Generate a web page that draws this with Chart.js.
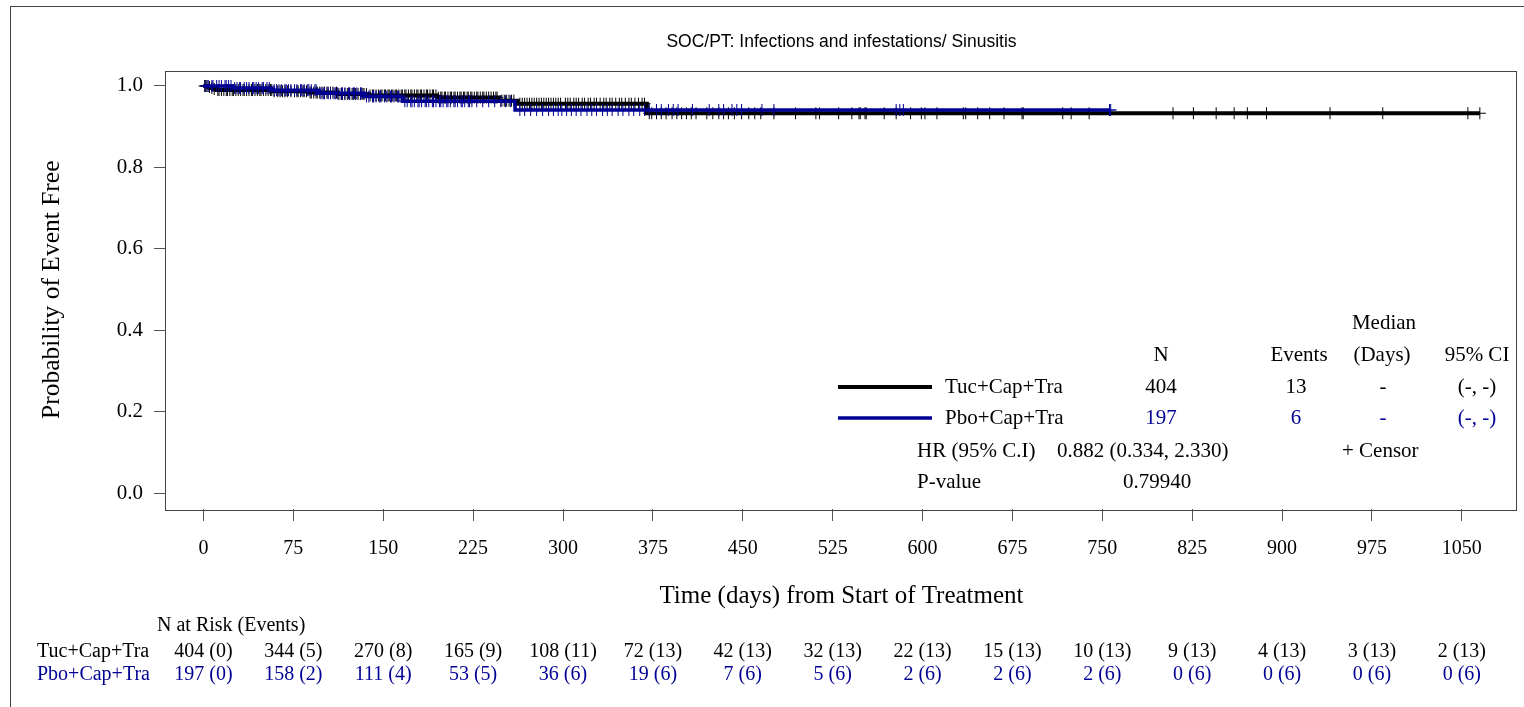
<!DOCTYPE html>
<html>
<head>
<meta charset="utf-8">
<script src="https://cdn.jsdelivr.net/npm/chart.js@4.4.1/dist/chart.umd.min.js"></script>
<style>
  html, body { margin: 0; padding: 0; background: #fff; overflow: hidden; }
  #wrap { position: relative; width: 1524px; height: 707px; }
  #frame { position: absolute; left: 10px; top: 6px; width: 1540px; height: 740px; border: 1px solid #444; pointer-events: none; }
</style>
</head>
<body>
<div id="wrap">
  <canvas id="km" width="1524" height="707"></canvas>
  <div id="frame"></div>
</div>
<script>
const BLACK = '#000000';
const BLUE = '#000094';

const xTicks = [0, 75, 150, 225, 300, 375, 450, 525, 600, 675, 750, 825, 900, 975, 1050];
const yTicks = [0, 0.2, 0.4, 0.6, 0.8, 1.0];

// Tuc+Cap+Tra - KM steps (day of event, survival after it)
const tucDays = [0, 4, 6, 8, 11, 58, 88, 112, 138, 195, 247, 262, 370];
const tucSurv = [1, 0.9975, 0.995, 0.9925, 0.990, 0.987, 0.9837, 0.9802, 0.9767, 0.9715, 0.964, 0.9565, 0.933];
const tucLastDay = 1065;
const tucCensor = [
  1, 2, 3, 5, 7, 9, 12, 13, 15, 17, 19, 20, 22, 24, 25, 27, 29, 31, 33, 34, 36, 38, 40, 41, 43, 45, 47, 48, 50, 52,
  54, 56, 57, 59, 62, 64, 66, 68, 70, 73,
  76, 78, 79, 81, 83, 84, 86, 89, 90, 92, 94, 95, 97, 99, 101, 103, 104, 106, 108, 111, 113, 115, 116, 118, 120,
  122, 124, 125, 127, 129, 131, 133, 134, 136, 139, 141, 142, 144, 146, 148, 149,
  151, 152, 154, 155, 157, 158, 160, 161, 163, 165, 166, 168, 169, 171, 173, 174, 176, 178, 179, 181, 182, 184,
  186, 187, 189, 191, 192, 194, 196, 198, 199, 201, 202, 204, 206, 207, 209, 210, 212, 214, 215, 217, 218, 220, 221, 223, 224,
  226, 228, 229, 231, 233, 234, 236, 238, 240, 242, 244, 245, 249, 251, 253, 255, 257, 259, 264, 266, 268, 270,
  272, 274, 276, 278, 280, 282, 284, 286, 288, 290, 292, 294, 296, 298,
  302, 304, 306, 309, 311, 313, 316, 318, 321, 323, 326, 328, 331, 334, 336, 339, 341, 344, 347, 349, 352, 355,
  357, 360, 363, 366, 368, 372, 374,
  378, 382, 386, 391, 395, 399, 403, 407, 411, 420, 425, 430, 434, 438, 443, 449,
  455, 460, 465, 476, 494, 511, 514,
  530, 541, 547, 548, 552, 553, 568, 578, 590, 599,
  602, 612, 634, 636, 646, 656, 668,
  683, 684, 717, 724, 739,
  809, 826, 845, 860, 871, 887, 940, 984, 1055, 1065
];

// Pbo+Cap+Tra
const pboDays = [0, 24, 57, 96, 134, 166, 260];
const pboSurv = [1, 0.9949, 0.9897, 0.982, 0.9742, 0.9625, 0.941];
const pboLastDay = 757;
const pboCensor = [
  2, 4, 7, 8, 11, 13, 15, 18, 19, 21, 23, 26, 28, 30, 31, 34, 36, 38, 41, 42, 44, 46, 49, 50, 53, 55, 59, 61, 63,
  65, 68, 69, 71, 73,
  76, 78, 81, 82, 84, 87, 88, 90, 93, 94, 98, 100, 101, 104, 106, 109, 110, 112, 115, 116, 118, 121, 122, 125,
  126, 128, 131, 132, 136, 138, 141, 142, 144, 147, 148,
  151, 153, 156, 157, 159, 162, 163, 168, 170, 173, 174, 176, 179, 180, 182, 185, 186, 188, 191, 192, 194, 197,
  198, 200, 203, 204, 206, 209, 210, 212, 215, 216, 218, 221, 222, 224,
  228, 233, 238, 243, 248, 252, 256, 264, 268, 273, 278, 283, 288, 292, 296, 299,
  303, 307, 311, 315, 320, 324, 328, 333, 337, 341, 346, 350, 355, 359, 364, 368, 372,
  378, 382, 388, 392, 396, 408, 422, 430, 434, 441, 445, 449,
  466, 476, 578, 581, 584, 756, 757
];

// N at risk (events) under each x tick
const tucAtRisk = [404, 344, 270, 165, 108, 72, 42, 32, 22, 15, 10, 9, 4, 3, 2];
const tucEvents = [0, 5, 8, 9, 11, 13, 13, 13, 13, 13, 13, 13, 13, 13, 13];
const pboAtRisk = [197, 158, 111, 53, 36, 19, 7, 5, 2, 2, 2, 0, 0, 0, 0];
const pboEvents = [0, 2, 4, 5, 6, 6, 6, 6, 6, 6, 6, 6, 6, 6, 6];

function survAt(days, surv, t) {
  let s = surv[0];
  for (let i = 0; i < days.length; i++) {
    if (days[i] <= t) s = surv[i];
  }
  return s;
}
function stepData(days, surv, lastDay) {
  const pts = days.map((d, i) => ({ x: d, y: surv[i] }));
  pts.push({ x: lastDay, y: surv[surv.length - 1] });
  return pts;
}
function censorData(days, surv, cens) {
  return cens.map(d => ({ x: d, y: survAt(days, surv, d) }));
}

const SERIF = '"Liberation Serif", "Times New Roman", serif';

const boxPlugin = {
  id: 'box',
  beforeDatasetsDraw(chart) {
    const a = chart.chartArea;
    const ctx = chart.ctx;
    ctx.save();
    ctx.strokeStyle = '#444';
    ctx.lineWidth = 1;
    ctx.strokeRect(Math.round(a.left) - 0.5, Math.round(a.top) + 0.5, Math.round(a.right - a.left), Math.round(a.bottom - a.top));
    ctx.restore();
  }
};

const tablePlugin = {
  id: 'kmTable',
  afterDraw(chart) {
    const ctx = chart.ctx;
    const xs = chart.scales.x;
    ctx.save();
    ctx.textBaseline = 'middle';
    function txt(s, x, y, align, color, size) {
      ctx.font = (size || 21) + 'px ' + SERIF;
      ctx.fillStyle = color || BLACK;
      ctx.textAlign = align || 'left';
      ctx.fillText(s, x, y);
    }
    // legend table inside the plot
    txt('Median', 1384, 323, 'center');
    txt('N', 1161, 355, 'center');
    txt('Events', 1299, 355, 'center');
    txt('(Days)', 1382, 355, 'center');
    txt('95% CI', 1477, 355, 'center');

    ctx.strokeStyle = BLACK;
    ctx.lineWidth = 4;
    ctx.beginPath(); ctx.moveTo(838, 387); ctx.lineTo(932, 387); ctx.stroke();
    txt('Tuc+Cap+Tra', 945, 387);
    txt('404', 1161, 387, 'center');
    txt('13', 1296, 387, 'center');
    txt('-', 1383, 387, 'center');
    txt('(-, -)', 1477, 387, 'center');

    ctx.strokeStyle = BLUE;
    ctx.lineWidth = 3.5;
    ctx.beginPath(); ctx.moveTo(838, 418); ctx.lineTo(932, 418); ctx.stroke();
    txt('Pbo+Cap+Tra', 945, 418);
    txt('197', 1161, 418, 'center', BLUE);
    txt('6', 1296, 418, 'center', BLUE);
    txt('-', 1383, 418, 'center', BLUE);
    txt('(-, -)', 1477, 418, 'center', BLUE);

    txt('HR (95% C.I)', 917, 451);
    txt('0.882 (0.334, 2.330)', 1057, 451);
    txt('+ Censor', 1342, 451);
    txt('P-value', 917, 482);
    txt('0.79940', 1157, 482, 'center');

    // number at risk table
    txt('N at Risk (Events)', 157, 626, 'left', BLACK, 20);
    txt('Tuc+Cap+Tra', 37, 652, 'left', BLACK, 20);
    txt('Pbo+Cap+Tra', 37, 675, 'left', BLUE, 20);
    xTicks.forEach((t, i) => {
      const px = xs.getPixelForValue(t);
      txt(tucAtRisk[i] + ' (' + tucEvents[i] + ')', px, 652, 'center', BLACK, 20);
      txt(pboAtRisk[i] + ' (' + pboEvents[i] + ')', px, 675, 'center', BLUE, 20);
    });
    ctx.restore();
  }
};

const canvas = document.getElementById('km');
const chart = new Chart(canvas, {
  type: 'scatter',
  data: {
    datasets: [
      {
        label: 'Pbo+Cap+Tra censor',
        data: censorData(pboDays, pboSurv, pboCensor),
        showLine: false,
        pointStyle: 'cross',
        pointRadius: 6,
        borderColor: BLUE,
        borderWidth: 1,
        order: 0
      },
      {
        label: 'Pbo+Cap+Tra',
        data: stepData(pboDays, pboSurv, pboLastDay),
        showLine: true,
        stepped: 'before',
        borderColor: BLUE,
        borderWidth: 3.5,
        pointRadius: 0,
        order: 1
      },
      {
        label: 'Tuc+Cap+Tra censor',
        data: censorData(tucDays, tucSurv, tucCensor),
        showLine: false,
        pointStyle: 'cross',
        pointRadius: 6,
        borderColor: BLACK,
        borderWidth: 1,
        order: 2
      },
      {
        label: 'Tuc+Cap+Tra',
        data: stepData(tucDays, tucSurv, tucLastDay),
        showLine: true,
        stepped: 'before',
        borderColor: BLACK,
        borderWidth: 4,
        pointRadius: 0,
        order: 3
      }
    ]
  },
  options: {
    responsive: false,
    animation: false,
    layout: { padding: { left: 0, right: 5, top: 0, bottom: 88 } },
    plugins: {
      legend: { display: false },
      tooltip: { enabled: false },
      title: {
        display: true,
        text: 'SOC/PT: Infections and infestations/ Sinusitis',
        fullSize: false,
        color: '#000',
        font: { family: '"Liberation Sans", Arial, sans-serif', size: 17.5, weight: 'normal', lineHeight: 1.2 },
        padding: { top: 32, bottom: 17.5 }
      }
    },
    scales: {
      x: {
        type: 'linear',
        min: -31.25,
        max: 1096,
        afterBuildTicks: s => { s.ticks = xTicks.map(v => ({ value: v })); },
        afterFit: s => { s.height = 110; },
        border: { display: false },
        grid: { drawOnChartArea: false, drawTicks: true, tickLength: 12, tickColor: '#555', lineWidth: 1 },
        ticks: {
          color: '#000',
          font: { family: SERIF, size: 20 },
          padding: 16,
          maxRotation: 0,
          autoSkip: false,
          callback: v => String(v)
        },
        title: {
          display: true,
          text: 'Time (days) from Start of Treatment',
          color: '#000',
          font: { family: SERIF, size: 25 },
          padding: { top: 0, bottom: 8 }
        }
      },
      y: {
        min: -0.039,
        max: 1.038,
        afterBuildTicks: s => { s.ticks = yTicks.map(v => ({ value: v })); },
        afterFit: s => { s.width = 166; },
        border: { display: false },
        grid: { drawOnChartArea: false, drawTicks: true, tickLength: 12, tickColor: '#555', lineWidth: 1 },
        ticks: {
          color: '#000',
          font: { family: SERIF, size: 21 },
          padding: 11,
          callback: v => v.toFixed(1)
        },
        title: {
          display: true,
          text: 'Probability of Event Free',
          color: '#000',
          font: { family: SERIF, size: 25.5 },
          padding: { top: 37, bottom: 0 }
        }
      }
    }
  },
  plugins: [boxPlugin, tablePlugin]
});
</script>
</body>
</html>
